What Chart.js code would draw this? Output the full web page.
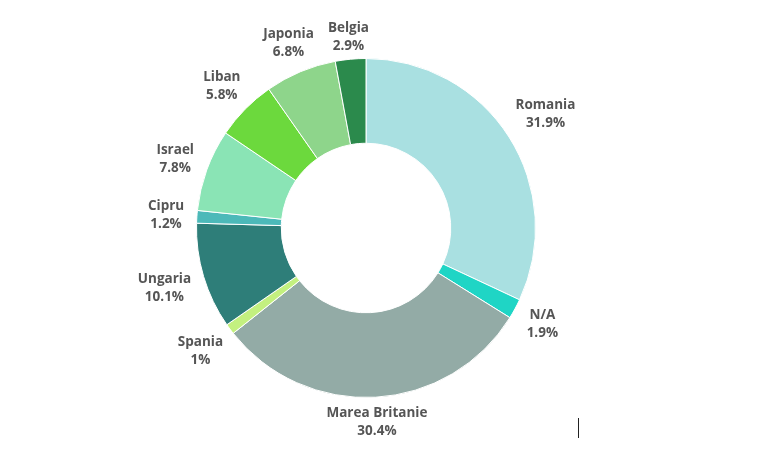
<!DOCTYPE html>
<html>
<head>
<meta charset="utf-8">
<script src="https://cdn.jsdelivr.net/npm/chart.js@4.4.1/dist/chart.umd.min.js"></script>
<style>
    html, body { margin: 0; padding: 0; background: #fff; }
    #wrap { position: relative; width: 765px; height: 460px; }
    #cursor { position: absolute; left: 578px; top: 418px; width: 1px; height: 20px; background: #222; }
</style>
</head>
<body>
<div id="wrap">
    <canvas id="countryChart" width="765" height="460"></canvas>
    <div id="cursor"></div>
</div>
<script>
const countries = ['Romania', 'N/A', 'Marea Britanie', 'Spania', 'Ungaria', 'Cipru', 'Israel', 'Liban', 'Japonia', 'Belgia'];
const shares = [31.9, 1.9, 30.4, 1, 10.1, 1.2, 7.8, 5.8, 6.8, 2.9];
const sliceColors = ['#a9e0e1', '#1fd5c5', '#93aba6', '#c3f07f', '#2e7e79', '#4cb9b9', '#8ae4b5', '#6cd93d', '#8ed58b', '#2b8a4c'];

// etichete in afara inelului (nume + procent)
const outsideLabels = {
    id: 'outsideLabels',
    afterDatasetsDraw(chart) {
        const ctx = chart.ctx;
        const meta = chart.getDatasetMeta(0);
        ctx.save();
        ctx.font = 'bold 13.5px "Open Sans", sans-serif';
        ctx.fillStyle = '#555555';
        ctx.textAlign = 'center';
        ctx.textBaseline = 'middle';
        meta.data.forEach((arc, i) => {
            const mid = (arc.startAngle + arc.endAngle) / 2;
            const cos = Math.cos(mid), sin = Math.sin(mid);
            const lines = [countries[i], shares[i] + '%'];
            const w = Math.max(...lines.map(t => ctx.measureText(t).width));
            const h = 24;
            const extent = Math.abs(cos) * (w / 2 + 3) + Math.abs(sin) * h / 2;
            const r = arc.outerRadius + 9 + extent;
            const cx = arc.x + cos * r;
            const cy = arc.y + sin * r;
            ctx.fillText(lines[0], cx, cy - 8.5);
            ctx.fillText(lines[1], cx, cy + 9.5);
        });
        ctx.restore();
    }
};

const ctx = document.getElementById('countryChart').getContext('2d');
new Chart(ctx, {
    type: 'doughnut',
    data: {
        labels: countries,
        datasets: [{
            data: shares,
            backgroundColor: sliceColors,
            borderColor: '#ffffff',
            borderWidth: 1
        }]
    },
    options: {
        responsive: false,
        animation: false,
        cutout: '50%',
        layout: {
            padding: { top: 58, bottom: 62, left: 150, right: 183 }
        },
        plugins: {
            legend: { display: false },
            tooltip: { enabled: false }
        }
    },
    plugins: [outsideLabels]
});
</script>
</body>
</html>
